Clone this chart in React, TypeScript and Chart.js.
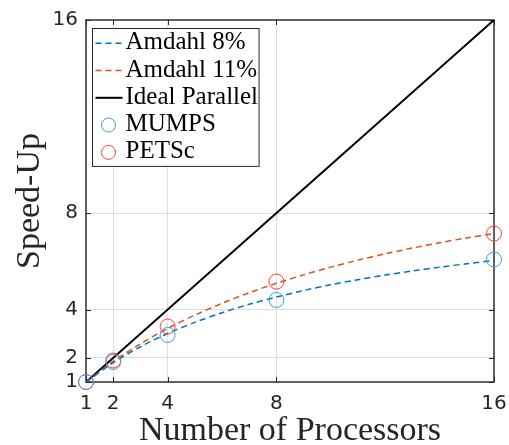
import React, { useEffect, useRef } from "react";
import { Chart, registerables } from "chart.js";

Chart.register(...registerables);

// ---- data ----
const procTicks = [1, 2, 4, 8, 16];
const speedTicks = [1, 2, 4, 8, 16];

const curveProcs = [1, 2, 3, 4, 5, 6, 7, 8, 9, 10, 11, 12, 13, 14, 15, 16];
const amdahl8 = [1, 1.8, 2.46, 3.01, 3.47, 3.87, 4.22, 4.52, 4.79, 5.03, 5.24, 5.43, 5.6, 5.76, 5.9, 6.04];
const amdahl11 = [1, 1.85, 2.58, 3.22, 3.77, 4.26, 4.7, 5.09, 5.44, 5.76, 6.05, 6.31, 6.55, 6.77, 6.97, 7.15];

const idealProcs = [1, 16];
const idealSpeed = [1, 16];

const measuredProcs = [1, 2, 4, 8, 16];
const mumps = [1, 1.83, 2.95, 4.4, 6.08];
const petsc = [1, 1.89, 3.3, 5.16, 7.15];

const labels = ["Amdahl 8%", "Amdahl 11%", "Ideal Parallel", "MUMPS", "PETSc"];

const pts = (xs: number[], ys: number[]) => xs.map((x, i) => ({ x, y: ys[i] }));

const framePlugin = {
  id: "frame",
  beforeDatasetsDraw(chart: any) {
    const { ctx, chartArea: a, scales } = chart;
    const x = scales.x;
    const y = scales.y;
    ctx.save();
    ctx.strokeStyle = "#262626";
    ctx.lineWidth = 1.4;
    ctx.strokeRect(a.left, a.top, a.right - a.left, a.bottom - a.top);
    const tl = 5;
    ctx.lineWidth = 1;
    ctx.beginPath();
    for (const t of x.ticks) {
      const px = Math.round(x.getPixelForValue(t.value)) + 0.5;
      ctx.moveTo(px, a.bottom);
      ctx.lineTo(px, a.bottom - tl);
      ctx.moveTo(px, a.top);
      ctx.lineTo(px, a.top + tl);
    }
    for (const t of y.ticks) {
      const py = Math.round(y.getPixelForValue(t.value)) + 0.5;
      ctx.moveTo(a.left, py);
      ctx.lineTo(a.left + tl, py);
      ctx.moveTo(a.right, py);
      ctx.lineTo(a.right - tl, py);
    }
    ctx.stroke();
    ctx.restore();
  },
};

const legendPlugin = {
  id: "boxLegend",
  afterDraw(chart: any) {
    const { ctx, chartArea: a } = chart;
    const ds = chart.data.datasets;
    ctx.save();
    ctx.font = '25px "Liberation Serif"';
    const maxW = Math.max(...ds.map((d: any) => ctx.measureText(d.label).width));
    const x0 = Math.round(a.left + 6) + 0.5;
    const y0 = Math.round(a.top + 8) + 0.5;
    const rowH = 27.3;
    const w = 34 + maxW;
    const h = 14.7 + rowH * (ds.length - 1) + 14;
    ctx.fillStyle = "#ffffff";
    ctx.fillRect(x0, y0, w, h);
    ctx.strokeStyle = "#262626";
    ctx.lineWidth = 1;
    ctx.strokeRect(x0, y0, w, h);
    ds.forEach((d: any, i: number) => {
      const cy = y0 + 14.7 + rowH * i;
      if (d.showLine) {
        ctx.save();
        ctx.strokeStyle = d.borderColor;
        ctx.lineWidth = d.borderWidth;
        ctx.setLineDash(d.borderDash || []);
        ctx.beginPath();
        ctx.moveTo(x0 + 3, cy);
        ctx.lineTo(x0 + 30, cy);
        ctx.stroke();
        ctx.restore();
      } else {
        ctx.save();
        ctx.strokeStyle = d.pointBorderColor;
        ctx.lineWidth = 1;
        ctx.beginPath();
        ctx.arc(x0 + 16, cy, 7, 0, Math.PI * 2);
        ctx.stroke();
        ctx.restore();
      }
      ctx.fillStyle = "#000000";
      ctx.textBaseline = "alphabetic";
      ctx.textAlign = "left";
      ctx.fillText(d.label, x0 + 33, cy + 6);
    });
    ctx.restore();
  },
};

export default function App() {
  const ref = useRef<HTMLCanvasElement | null>(null);

  useEffect(() => {
    if (!ref.current) return;
    const lineDs = (label: string, xs: number[], ys: number[], color: string, dash: number[], width: number) => ({
      label,
      data: pts(xs, ys),
      showLine: true,
      borderColor: color,
      backgroundColor: color,
      borderWidth: width,
      borderDash: dash,
      pointRadius: 0,
      tension: 0.3,
      order: 1,
    });
    const markDs = (label: string, xs: number[], ys: number[], color: string) => ({
      label,
      data: pts(xs, ys),
      showLine: false,
      pointStyle: "circle",
      pointRadius: 7.5,
      pointBorderWidth: 1,
      pointBorderColor: color,
      pointBackgroundColor: "rgba(0,0,0,0)",
      borderColor: color,
      backgroundColor: "rgba(0,0,0,0)",
      clip: false,
      order: 0,
    });
    const chart = new Chart(ref.current, {
      type: "scatter",
      data: {
        datasets: [
          lineDs(labels[0], curveProcs, amdahl8, "#0072BD", [6, 4], 1.5),
          lineDs(labels[1], curveProcs, amdahl11, "#D95319", [6, 4], 1.5),
          lineDs(labels[2], idealProcs, idealSpeed, "#000000", [], 2),
          markDs(labels[3], measuredProcs, mumps, "#3D9BE0"),
          markDs(labels[4], measuredProcs, petsc, "#FF3B3B"),
        ] as any,
      },
      options: {
        animation: false,
        responsive: false,
        layout: { padding: { top: 20, right: 15, left: 0, bottom: 0 } },
        plugins: { legend: { display: false }, tooltip: { enabled: false } },
        scales: {
          x: {
            type: "linear",
            min: 1,
            max: 16,
            afterBuildTicks: (s: any) => {
              s.ticks = procTicks.map((v) => ({ value: v }));
            },
            afterFit: (s: any) => {
              s.height = 63;
              s.paddingLeft = 0;
              s.paddingRight = 0;
            },
            grid: { color: "#dedede", drawTicks: false, lineWidth: 1 },
            border: { display: false },
            ticks: {
              autoSkip: false,
              maxRotation: 0,
              padding: 10,
              color: "#262626",
              font: { family: "DejaVu Sans", size: 20 },
            },
            title: {
              display: true,
              text: "Number of Processors",
              color: "#262626",
              font: { family: "Liberation Serif", size: 34, lineHeight: 0.8 },
              padding: 0,
            },
          },
          y: {
            type: "linear",
            min: 1,
            max: 16,
            afterBuildTicks: (s: any) => {
              s.ticks = speedTicks.map((v) => ({ value: v }));
            },
            afterFit: (s: any) => {
              s.width = 86;
              s.paddingTop = 0;
              s.paddingBottom = 0;
            },
            grid: { color: "#dedede", drawTicks: false, lineWidth: 1 },
            border: { display: false },
            ticks: {
              autoSkip: false,
              padding: 8,
              color: "#262626",
              font: { family: "DejaVu Sans", size: 20 },
            },
            title: {
              display: true,
              text: "Speed-Up",
              color: "#262626",
              font: { family: "Liberation Serif", size: 34, lineHeight: 1 },
              padding: { top: 13, bottom: 0 },
            },
          },
        },
      },
      plugins: [framePlugin, legendPlugin],
    } as any);
    return () => chart.destroy();
  }, []);

  return (
    <div style={{ position: "fixed", left: 0, top: 0, width: 509, height: 445, background: "#fff" }}>
      <canvas ref={ref} width={509} height={445} style={{ display: "block" }} />
    </div>
  );
}
